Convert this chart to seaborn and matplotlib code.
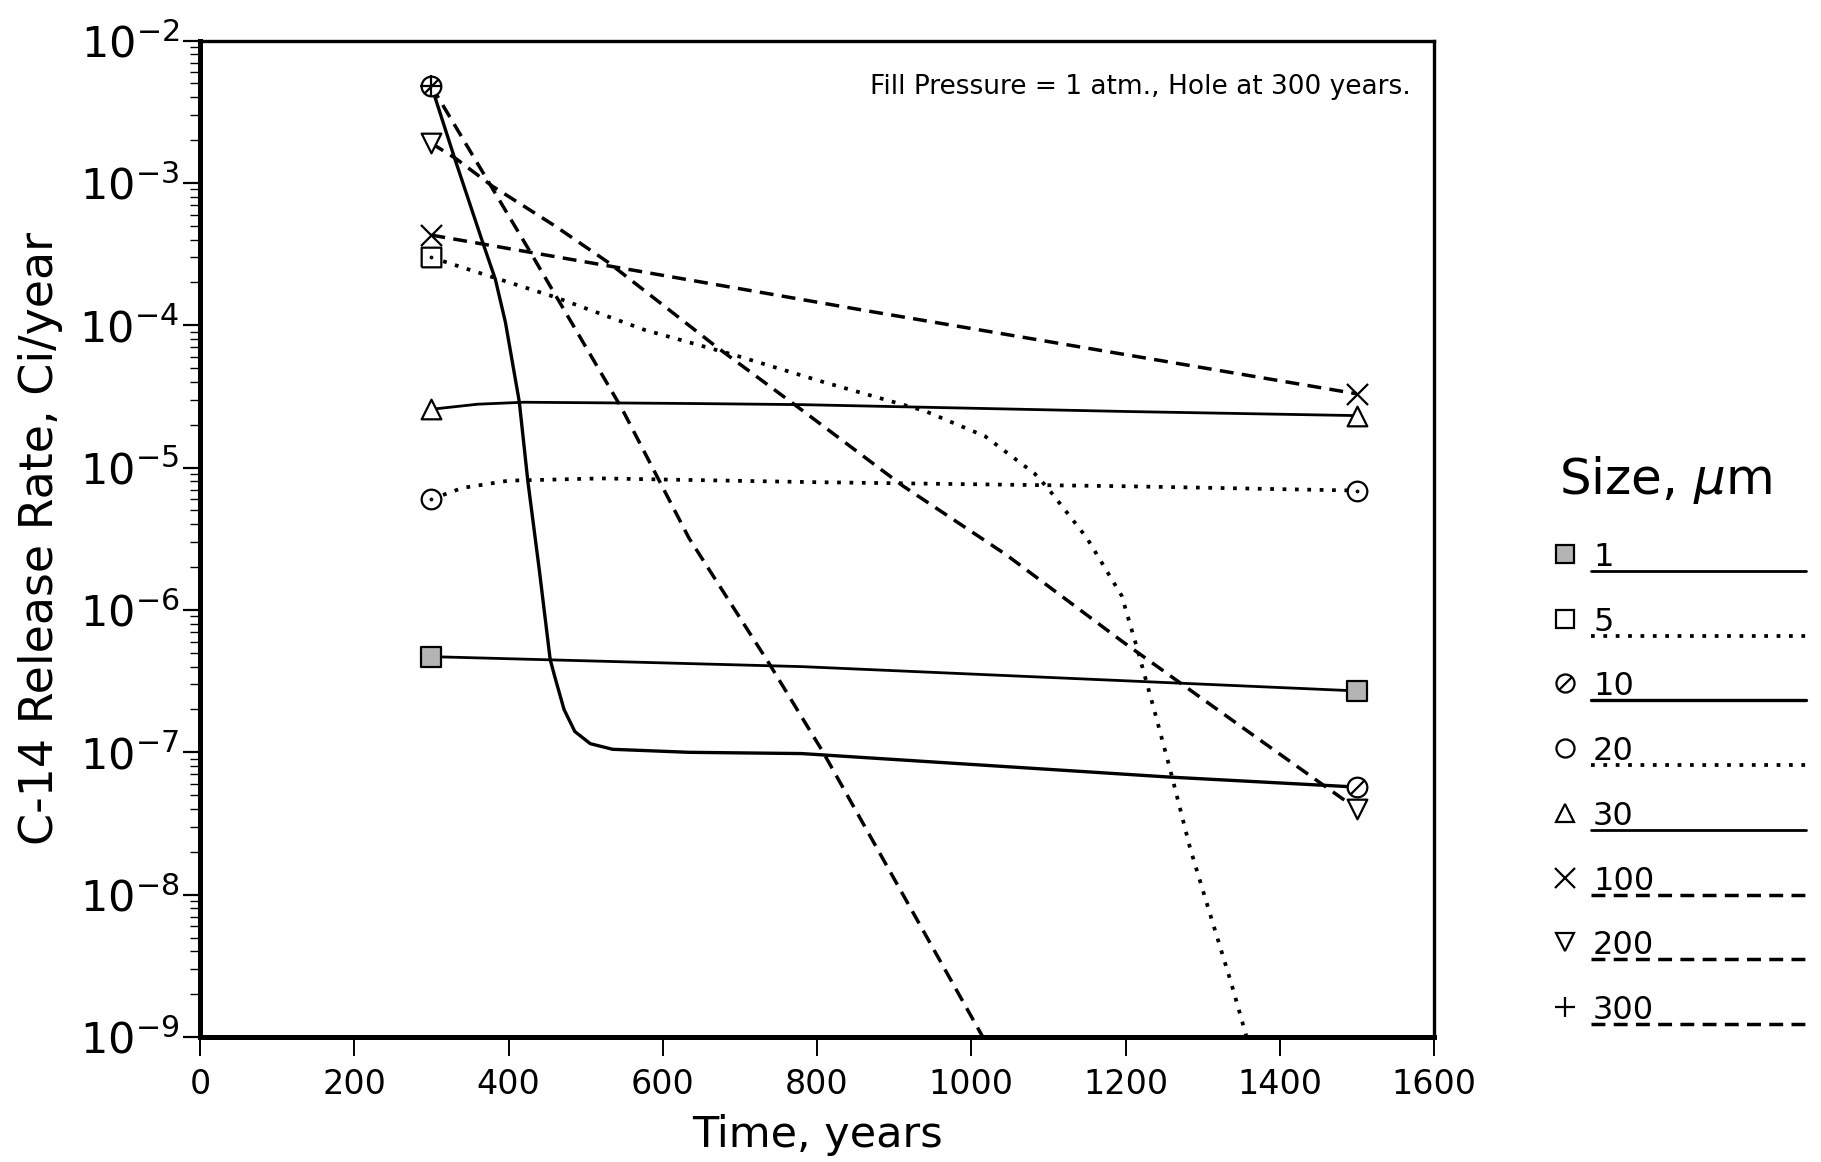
import numpy as np
import pandas as pd
import matplotlib
matplotlib.use("Agg")
import matplotlib.pyplot as plt
from matplotlib.path import Path
from matplotlib.lines import Line2D
import seaborn as sns

sns.set_theme(style="ticks", context="notebook")
plt.rcParams["font.family"] = ["DejaVu Sans"]
plt.rcParams["mathtext.fontset"] = "dejavusans"
plt.rcParams["text.color"] = "black"
plt.rcParams["axes.labelcolor"] = "black"
plt.rcParams["xtick.color"] = "black"
plt.rcParams["ytick.color"] = "black"

# particle sizes (um) and their curves
sizes = ["1", "5", "10", "20", "30", "100", "200", "300"]

yr_1 = [300, 780, 1500]
rate_1 = [4.7e-7, 4.0e-7, 2.7e-7]

yr_5 = [300, 345, 460, 576, 692, 808, 940, 1018, 1082, 1100, 1150, 1195,
        1215, 1236, 1257, 1284, 1310, 1337, 1357]
rate_5 = [3.0e-4, 2.5e-4, 1.58e-4, 9.3e-5, 6.2e-5, 4.0e-5, 2.5e-5, 1.66e-5,
          9.1e-6, 7.1e-6, 3.2e-6, 1.26e-6, 5.4e-7, 2.1e-7, 7.9e-8, 2.1e-8,
          7.2e-9, 2.4e-9, 1.0e-9]

yr_10 = [300, 330, 366, 383, 396, 414, 425, 440, 454, 460, 472, 486, 506, 535,
         634, 780, 1257, 1500]
rate_10 = [4.8e-3, 1.5e-3, 3.9e-4, 2.1e-4, 1.05e-4, 2.9e-5, 8.1e-6, 1.9e-6,
           4.5e-7, 3.4e-7, 2.0e-7, 1.4e-7, 1.15e-7, 1.05e-7, 1.0e-7, 9.8e-8,
           6.7e-8, 5.7e-8]

yr_20 = [300, 340, 400, 520, 800, 1200, 1500]
rate_20 = [6.0e-6, 7.2e-6, 8.1e-6, 8.4e-6, 7.9e-6, 7.4e-6, 6.9e-6]

yr_30 = [300, 360, 420, 640, 780, 1200, 1500]
rate_30 = [2.57e-5, 2.79e-5, 2.88e-5, 2.82e-5, 2.77e-5, 2.48e-5, 2.32e-5]

yr_100 = [300, 866, 1500]
rate_100 = [4.3e-4, 1.26e-4, 3.3e-5]

yr_200 = [300, 332, 379, 460, 530, 669, 779, 912, 1045, 1196, 1363, 1500]
rate_200 = [1.9e-3, 1.48e-3, 9.5e-4, 5.0e-4, 2.75e-4, 7.1e-5, 2.57e-5,
            7.4e-6, 2.45e-6, 6.0e-7, 1.35e-7, 4.0e-8]

yr_300 = [300, 425, 547, 634, 738, 808, 1015]
rate_300 = [4.8e-3, 3.5e-4, 2.6e-5, 3.2e-6, 4.2e-7, 1.0e-7, 1.0e-9]

year_lists = [yr_1, yr_5, yr_10, yr_20, yr_30, yr_100, yr_200, yr_300]
rate_lists = [rate_1, rate_5, rate_10, rate_20, rate_30, rate_100, rate_200, rate_300]

x_ticks = [0, 200, 400, 600, 800, 1000, 1200, 1400, 1600]
y_ticks = [1e-9, 1e-8, 1e-7, 1e-6, 1e-5, 1e-4, 1e-3, 1e-2]
y_tick_labels = [r"$10^{-9}$", r"$10^{-8}$", r"$10^{-7}$", r"$10^{-6}$",
                 r"$10^{-5}$", r"$10^{-4}$", r"$10^{-3}$", r"$10^{-2}$"]

df = pd.concat(
    [pd.DataFrame({"Time": xs, "Rate": ys, "Size": s})
     for s, xs, ys in zip(sizes, year_lists, rate_lists)],
    ignore_index=True,
)

# ---- styles ----
SOLID = "-"
DOT = (0, (1, 2.3))
DASH = (0, (4, 2.4))
line_style = {"1": SOLID, "5": DOT, "10": SOLID, "20": DOT,
              "30": SOLID, "100": DASH, "200": DASH, "300": DASH}
line_width = {"1": 2.0, "5": 2.7, "10": 2.4, "20": 2.7,
              "30": 2.0, "100": 2.5, "200": 2.5, "300": 2.5}

slashed_circle = Path.make_compound_path(
    Path.unit_circle(), Path([[-0.72, -0.72], [0.72, 0.72]]))
dotted_circle = Path.make_compound_path(
    Path.unit_circle(), Path.circle((0, 0), 0.08))
dotted_square = Path.make_compound_path(
    Path([[-1, -1], [1, -1], [1, 1], [-1, 1], [-1, -1]]),
    Path.circle((0, 0), 0.08))

plot_marker = {"1": "s", "5": dotted_square, "10": slashed_circle, "20": dotted_circle,
               "30": "^", "100": "x", "200": "v", "300": "+"}
legend_marker = {"1": "s", "5": "s", "10": slashed_circle, "20": "o",
                 "30": "^", "100": "x", "200": "v", "300": "+"}
face = {"1": "#b4b4b4"}

W, H = 1821, 1162
fig = plt.figure(figsize=(W / 100, H / 100), dpi=100)
ax = fig.add_axes([200 / W, 1 - 1037 / H, 1234 / W, 996.4 / H])

for s in sizes:
    sub = df[df["Size"] == s]
    sns.lineplot(data=sub, x="Time", y="Rate", ax=ax, color="black",
                 estimator=None, sort=False, linestyle=line_style[s],
                 linewidth=line_width[s], legend=False)

for s in sizes:
    sub = df[df["Size"] == s]
    ends = sub.iloc[[0, -1]] if sub["Time"].iloc[-1] == 1500 else sub.iloc[[0]]
    if plot_marker[s] in ("x", "+"):
        sns.scatterplot(data=ends, x="Time", y="Rate", ax=ax, marker=plot_marker[s],
                        s=230, color="black", linewidth=1.6, zorder=5, legend=False)
    else:
        sns.scatterplot(data=ends, x="Time", y="Rate", ax=ax, marker=plot_marker[s],
                        s=200, facecolor=face.get(s, "white"), edgecolor="black",
                        linewidth=1.6, zorder=5, legend=False)

ax.set_yscale("log")
ax.set_xlim(0, 1600)
ax.set_ylim(1e-9, 1e-2)
ax.set_xticks(x_ticks)
ax.set_xticklabels([str(t) for t in x_ticks])
ax.set_yticks(y_ticks)
ax.set_yticklabels(y_tick_labels)
ax.yaxis.set_minor_locator(matplotlib.ticker.LogLocator(base=10, subs=np.arange(2, 10)))
ax.yaxis.set_minor_formatter(matplotlib.ticker.NullFormatter())

ax.tick_params(axis="y", which="major", direction="out", length=12, width=1.6,
               labelsize=31, pad=3, color="black", labelcolor="black")
ax.tick_params(axis="y", which="minor", direction="out", length=7, width=1.0, color="black")
ax.tick_params(axis="x", which="major", direction="out", length=14, width=1.4,
               labelsize=24, pad=8, color="black", labelcolor="black")
for side in ["left", "bottom"]:
    ax.spines[side].set_linewidth(3.6)
for side in ["top", "right"]:
    ax.spines[side].set_linewidth(2.4)
for sp in ax.spines.values():
    sp.set_color("black")

ax.set_xlabel("Time, years", fontsize=31, labelpad=10, color="black")
ax.set_ylabel("C-14 Release Rate, Ci/year", fontsize=33, labelpad=12, color="black")
ax.text(0.981, 0.953, "Fill Pressure = 1 atm., Hole at 300 years.",
        transform=ax.transAxes, ha="right", va="center", fontsize=19, color="black")

# ---- legend drawn to the right of the axes ----
def fx(px):
    return px / W


def fy(py):
    return 1 - py / H


fig.text(fx(1559), fy(494), r"Size, $\mu$m", fontsize=36, ha="left", va="baseline",
         color="black")
for i, s in enumerate(sizes):
    base = 566 + i * 64.7
    fig.text(fx(1593), fy(base), s, fontsize=23, ha="left", va="baseline", color="black")
    fig.add_artist(Line2D([fx(1591), fx(1806)], [fy(base + 5), fy(base + 5)],
                          transform=fig.transFigure, color="black",
                          linestyle=line_style[s], linewidth=line_width[s]))
    m = legend_marker[s]
    if m in ("x", "+"):
        fig.add_artist(Line2D([fx(1565)], [fy(base - 12)], transform=fig.transFigure,
                              marker=m, markersize=15, markeredgewidth=1.6,
                              color="black", linestyle="none"))
    else:
        fig.add_artist(Line2D([fx(1565)], [fy(base - 12)], transform=fig.transFigure,
                              marker=m, markersize=13, markeredgewidth=1.6,
                              markerfacecolor=face.get(s, "white"),
                              markeredgecolor="black", linestyle="none"))

fig.savefig("out.png", dpi=100, facecolor="white")
